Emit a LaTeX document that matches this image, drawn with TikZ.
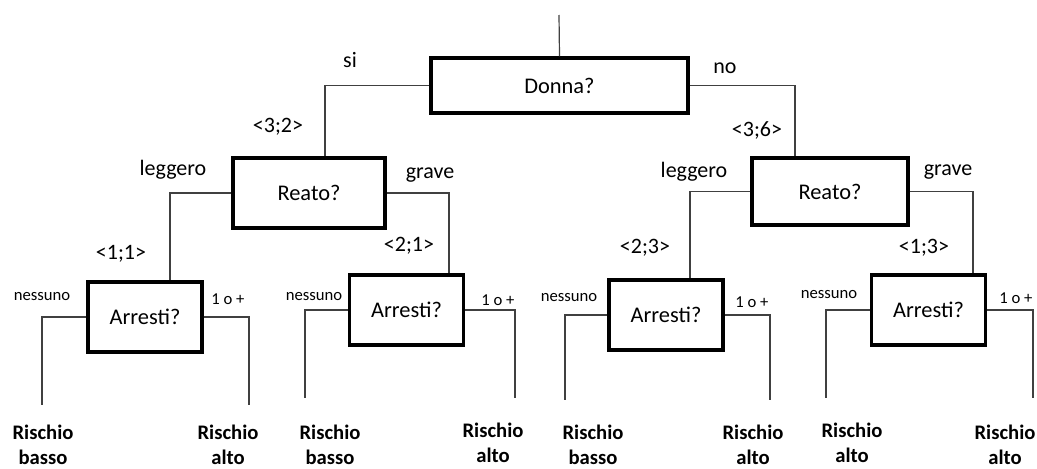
\documentclass[tikz,border=0pt]{standalone}
\usepackage{fontspec}
\setmainfont{Carlito}
\usetikzlibrary{calc}

\tikzset{
	domanda/.style={draw, line width=2.6pt, minimum width=85.5pt,
		minimum height=52.5pt, font=\fontsize{16.8}{19}\selectfont},
	ramo/.style={draw=black!75, line width=0.9pt},
	etich/.style={font=\fontsize{16.5}{19}\selectfont},
	piccola/.style={font=\fontsize{12.5}{15}\selectfont},
	foglia/.style={align=center, font=\bfseries\fontsize{15.5}{18.5}\selectfont},
}

\begin{document}
\begin{tikzpicture}[x=0.75pt,y=-0.75pt]
	\useasboundingbox (0,0) rectangle (1037,468);
	
	% domande
	\node[domanda, minimum width=192.75pt, minimum height=41.25pt] (don) at (559.5,85.5) {Donna?};
	\node[domanda, minimum width=114pt] (r1) at (309,193) {Reato?};
	\node[domanda, minimum width=117pt, minimum height=50pt] (r2) at (830,191.5) {Reato?};
	\node[domanda] (a1) at (145,317) {Arresti?};
	\node[domanda] (a2) at (406.5,310) {Arresti?};
	\node[domanda] (a3) at (666,315) {Arresti?};
	\node[domanda] (a4) at (928.5,310) {Arresti?};
	
	% foglie
	\node[foglia] (l1) at (43,445) {Rischio\\basso};
	\node[foglia] (l2) at (228,445) {Rischio\\alto};
	\node[foglia] (l3) at (330,445) {Rischio\\basso};
	\node[foglia] (l4) at (493,443) {Rischio\\alto};
	\node[foglia] (l5) at (593,445) {Rischio\\basso};
	\node[foglia] (l6) at (753,445) {Rischio\\alto};
	\node[foglia] (l7) at (852,443) {Rischio\\alto};
	\node[foglia] (l8) at (1005,445) {Rischio\\alto};
	
	% estremi liberi dei rami
	\coordinate (radice) at (559,15);
	\coordinate (e1) at (42,405);
	\coordinate (e2) at (249,405);
	\coordinate (e3) at (305,398);
	\coordinate (e4) at (515,398);
	\coordinate (e5) at (565,400);
	\coordinate (e6) at (770,400);
	\coordinate (e7) at (826,398);
	\coordinate (e8) at (1033,398);
	
	% rami
	\draw[ramo] (radice) -- (don.north);
	\draw[ramo] (don.west) -| ($(r1.north)+(16,0)$);
	\draw[ramo] (don.east) -| ($(r2.north)+(-35,0)$);
	\draw[ramo] (r1.west) -| ($(a1.north)+(25,0)$);
	\draw[ramo] (r1.east) -| ($(a2.north)+(42.5,0)$);
	\draw[ramo] (r2.west) -| ($(a3.north)+(24,0)$);
	\draw[ramo] (r2.east) -| ($(a4.north)+(44.5,0)$);
	\draw[ramo] (a1.west) -| (e1);
	\draw[ramo] (a1.east) -| (e2);
	\draw[ramo] (a2.west) -| (e3);
	\draw[ramo] (a2.east) -| (e4);
	\draw[ramo] (a3.west) -| (e5);
	\draw[ramo] (a3.east) -| (e6);
	\draw[ramo] (a4.west) -| (e7);
	\draw[ramo] (a4.east) -| (e8);
	
	% etichette
	\node[etich] (si) at (350,60) {si};
	\node[etich] (no) at (725,68) {no};
	\node[etich] (c32) at (278,127) {<3;2>};
	\node[etich] (c36) at (757,130) {<3;6>};
	\node[etich] (leg1) at (173,170) {leggero};
	\node[etich] (gra1) at (430,175) {grave};
	\node[etich] (leg2) at (694,172) {leggero};
	\node[etich] (gra2) at (948,172) {grave};
	\node[etich] (c11) at (121,254) {<1;1>};
	\node[etich] (c21) at (409,246) {<2;1>};
	\node[etich] (c23) at (645,248) {<2;3>};
	\node[etich] (c13) at (924,248) {<1;3>};
	
	\node[piccola] (n1) at (42,297) {nessuno};
	\node[piccola] (n2) at (314,297) {nessuno};
	\node[piccola] (n3) at (569,298) {nessuno};
	\node[piccola] (n4) at (829,295) {nessuno};
	\node[piccola] (u1) at (228,299) {1 o +};
	\node[piccola] (u2) at (498,300) {1 o +};
	\node[piccola] (u3) at (752,302) {1 o +};
	\node[piccola] (u4) at (1016,298) {1 o +};
\end{tikzpicture}
\end{document}
